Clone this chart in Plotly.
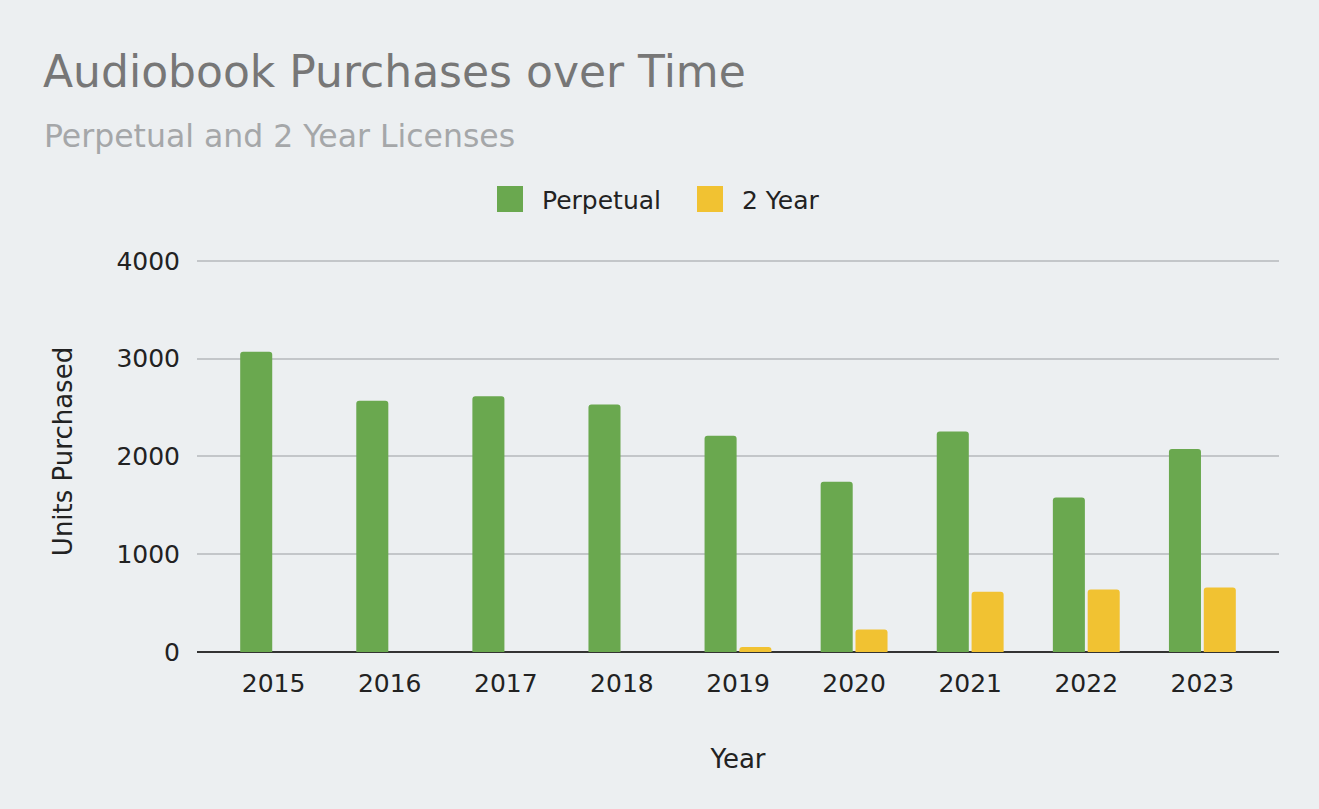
import plotly.graph_objects as go

years = ["2015", "2016", "2017", "2018", "2019", "2020", "2021", "2022", "2023"]
perpetual = [3070, 2570, 2615, 2530, 2210, 1740, 2255, 1580, 2075]
two_year = [0, 0, 0, 0, 50, 230, 615, 640, 660]
y_ticks = [0, 1000, 2000, 3000, 4000]
series_names = ["Perpetual", "2 Year"]

BG = "#eceff1"
FONT = "DejaVu Sans"
GREEN = "#6aa84f"
YELLOW = "#f1c232"
INK = "#222222"

fig = go.Figure()
fig.add_trace(go.Bar(x=years, y=perpetual, name=series_names[0],
                     marker=dict(color=GREEN, line=dict(width=0))))
fig.add_trace(go.Bar(x=years, y=two_year, name=series_names[1],
                     marker=dict(color=YELLOW, line=dict(width=0))))

W, H = 1319, 809
Y_TOP = 4100
L, R, T, B = 197, 40, 251, 157
pw = W - L - R
ph = H - T - B


def py(y_px):
    # pixel row -> paper coordinate
    return (H - B - y_px) / ph


def px(x_px):
    return (x_px - L) / pw


# custom legend: large swatches with labels
legend_shapes = []
legend_notes = []
for name, color, x0 in [(series_names[0], GREEN, 497), (series_names[1], YELLOW, 697)]:
    legend_shapes.append(dict(
        type="rect", xref="paper", yref="paper",
        x0=px(x0), x1=px(x0 + 26), y0=py(212), y1=py(186),
        fillcolor=color, line=dict(width=0), layer="above",
    ))
    legend_notes.append(dict(
        text=name, xref="paper", yref="paper",
        x=px(x0 + 43), y=py(200), xanchor="left", yanchor="middle",
        showarrow=False, font=dict(size=25, color=INK, family=FONT),
    ))

fig.update_layout(
    template="none",
    width=W,
    height=H,
    margin=dict(l=L, r=R, t=T, b=B, pad=0),
    paper_bgcolor=BG,
    plot_bgcolor=BG,
    font=dict(family=FONT, color=INK, size=25),
    barmode="group",
    bargap=0.4,
    bargroupgap=0.08,
    barcornerradius=3,
    showlegend=False,
    xaxis=dict(
        type="category",
        range=[-0.66, 8.66],
        showgrid=False,
        showline=False,
        zeroline=False,
        ticks="",
        tickfont=dict(size=25, color=INK),
        ticklabelstandoff=14,
        title=dict(text="Year", font=dict(size=26, color=INK), standoff=52),
    ),
    yaxis=dict(
        range=[0, Y_TOP],
        tickvals=y_ticks,
        ticktext=[str(v) for v in y_ticks],
        showgrid=True,
        gridcolor="#c3c6c9",
        gridwidth=2,
        zeroline=True,
        zerolinecolor="#333333",
        zerolinewidth=2,
        showline=False,
        ticks="",
        tickfont=dict(size=25, color=INK),
        ticklabelstandoff=16,
        title=dict(text="Units Purchased", font=dict(size=26, color=INK), standoff=36),
    ),
    shapes=legend_shapes,
    annotations=[
        dict(
            text="Audiobook Purchases over Time",
            xref="paper", yref="paper",
            x=px(41), y=py(72),
            xanchor="left", yanchor="middle",
            showarrow=False,
            font=dict(size=44, color="#777777", family=FONT),
        ),
        dict(
            text="Perpetual and 2 Year Licenses",
            xref="paper", yref="paper",
            x=px(42), y=py(136),
            xanchor="left", yanchor="middle",
            showarrow=False,
            font=dict(size=31.5, color="#a5a7a9", family=FONT),
        ),
    ] + legend_notes,
)

fig.write_html("out.html")
